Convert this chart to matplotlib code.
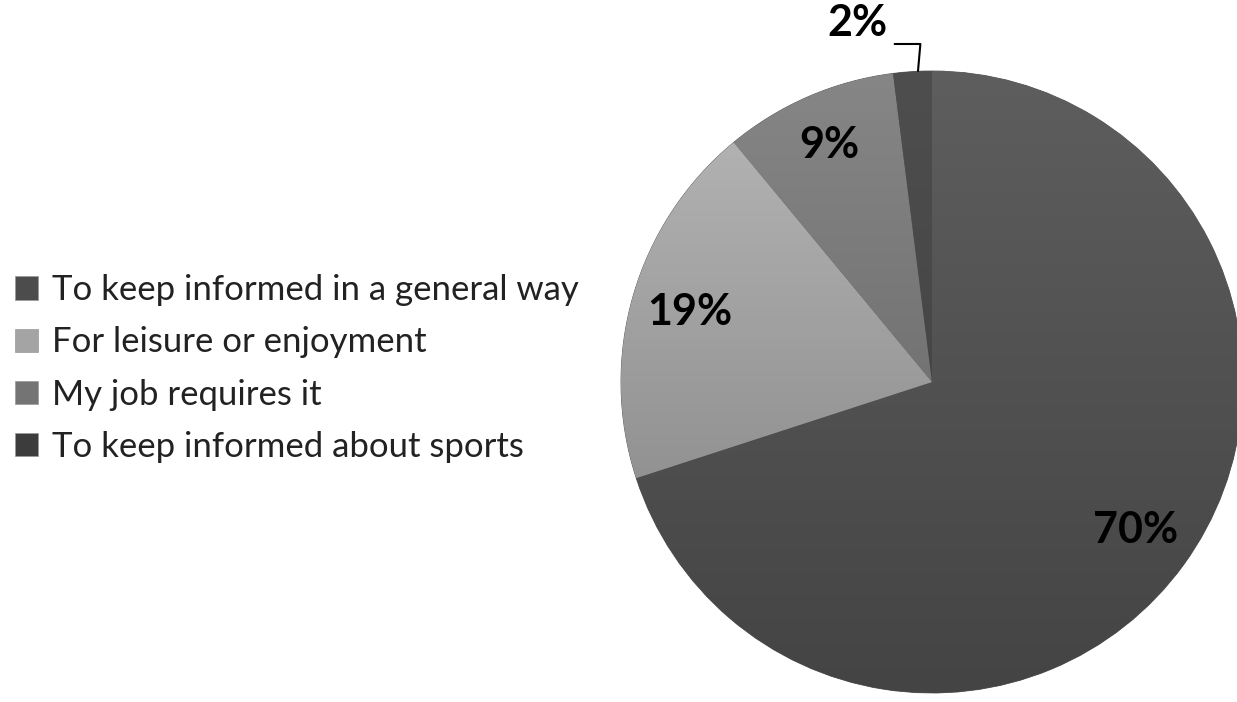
import numpy as np
import matplotlib.pyplot as plt
from matplotlib.colors import LinearSegmentedColormap
from matplotlib.patches import Patch

plt.rcParams['font.family'] = ['Lato', 'DejaVu Sans']

labels = ["To keep informed in a general way", "For leisure or enjoyment",
          "My job requires it", "To keep informed about sports"]
shares = [70, 19, 9, 2]
# shading of each slice, (top colour, bottom colour)
shades = [("#5e5e5e", "#444444"), ("#b8b8b8", "#7e7e7e"),
          ("#868686", "#606060"), ("#4e4e4e", "#3e3e3e")]
legend_colors = ["#4c4c4c", "#a4a4a4", "#747474", "#3c3c3c"]

W, H = 1237, 702
fig = plt.figure(figsize=(W / 100, H / 100), dpi=100)

cx, cy, R = 932, 382, 311
ax = fig.add_axes([(cx - R) / W, (H - cy - R) / H, 2 * R / W, 2 * R / H])
wedges, _ = ax.pie(shares, startangle=90, counterclock=False, radius=1,
                   colors=[s[0] for s in shades],
                   wedgeprops=dict(linewidth=0.6, edgecolor="#5a5a5a"))
grad = np.linspace(0, 1, 256).reshape(-1, 1)
for w, (top, bot) in zip(wedges, shades):
    cmap = LinearSegmentedColormap.from_list("shade", [top, bot])
    im = ax.imshow(grad, cmap=cmap, extent=(-1, 1, -1, 1), aspect="auto",
                   zorder=w.get_zorder() + 0.1)
    im.set_clip_path(w)
ax.set_xlim(-1, 1)
ax.set_ylim(-1, 1)
ax.set_aspect("auto")
ax.axis("off")

# percentage labels inside the slices, the small one outside with a leader
cum = np.cumsum([0] + shares)
for i, v in enumerate(shares):
    mid = np.deg2rad(90 - 3.6 * (cum[i] + v / 2))
    if v >= 5:
        r = 0.81 if v != 9 else 0.83
        ax.text(r * np.cos(mid), r * np.sin(mid), f"{v}%", ha="center",
                va="center", fontsize=31, fontweight="bold", color="black",
                zorder=5)
    else:
        ax.annotate(f"{v}%", xy=(-0.045, 1.0), xytext=(-0.24, 1.155),
                    ha="center", va="center", fontsize=31, fontweight="bold",
                    color="black", annotation_clip=False, zorder=5,
                    arrowprops=dict(arrowstyle="-", color="black", lw=1.5,
                                    shrinkA=0, shrinkB=0,
                                    connectionstyle="angle,angleA=0,angleB=85,rad=0",
                                    relpos=(1.12, -0.03)))

handles = [Patch(facecolor=c, edgecolor="#999999", linewidth=0.5) for c in legend_colors]
fig.legend(handles, labels, loc="center left", bbox_to_anchor=(15 / W, 0.475),
           frameon=False, fontsize=25, handlelength=0.66, handleheight=0.66,
           handletextpad=0.4, labelspacing=0.58, borderpad=0, borderaxespad=0,
           labelcolor="#222222")

fig.savefig("out.png", dpi=100)
